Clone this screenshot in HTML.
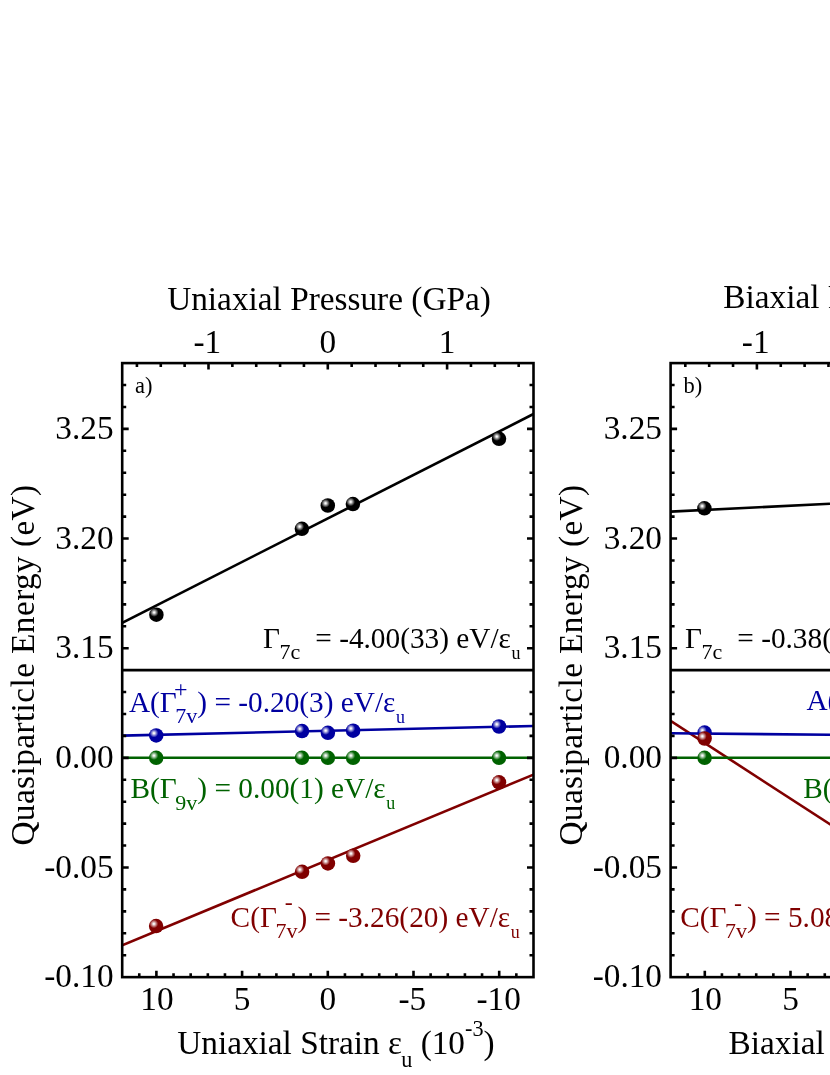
<!DOCTYPE html>
<html><head><meta charset="utf-8"><title>chart</title>
<style>html,body{margin:0;padding:0;background:#fff}body{width:830px;height:1075px;overflow:hidden}svg{display:block;will-change:transform}text{font-family:"Liberation Serif",serif;}</style>
</head><body>
<svg width="830" height="1075" viewBox="0 0 830 1075">
<defs>
<radialGradient id="gk" cx="0.345" cy="0.345" r="0.30"><stop offset="0" stop-color="#ffffff"/><stop offset="0.14" stop-color="#f6f6f6"/><stop offset="0.6" stop-color="#707070"/><stop offset="1" stop-color="#000000"/></radialGradient>
<radialGradient id="gb" cx="0.345" cy="0.345" r="0.30"><stop offset="0" stop-color="#ffffff"/><stop offset="0.14" stop-color="#f6f6f6"/><stop offset="0.6" stop-color="#7070cc"/><stop offset="1" stop-color="#0000a0"/></radialGradient>
<radialGradient id="gg" cx="0.345" cy="0.345" r="0.30"><stop offset="0" stop-color="#ffffff"/><stop offset="0.14" stop-color="#f6f6f6"/><stop offset="0.6" stop-color="#70a870"/><stop offset="1" stop-color="#006200"/></radialGradient>
<radialGradient id="gr" cx="0.345" cy="0.345" r="0.30"><stop offset="0" stop-color="#ffffff"/><stop offset="0.14" stop-color="#f6f6f6"/><stop offset="0.6" stop-color="#bb7070"/><stop offset="1" stop-color="#800000"/></radialGradient>
<clipPath id="cA"><rect x="122.2" y="363.1" width="411.3" height="614.04"/></clipPath>
<clipPath id="cB"><rect x="670.6" y="363.1" width="411.3" height="614.04"/></clipPath>
</defs>
<rect width="830" height="1075" fill="#fff"/>
<g clip-path="url(#cA)">
<line x1="122.2" y1="622.8" x2="533.5" y2="414.0" stroke="#000" stroke-width="2.6"/>
<line x1="122.2" y1="945.3" x2="533.5" y2="774.6" stroke="#800000" stroke-width="2.6"/>
<line x1="122.2" y1="757.8" x2="533.5" y2="757.8" stroke="#006200" stroke-width="2.6"/>
<line x1="122.2" y1="735.6" x2="533.5" y2="726.0" stroke="#0000a0" stroke-width="2.6"/>
</g>
<circle cx="156.4" cy="614.7" r="7.25" fill="url(#gk)"/>
<circle cx="301.9" cy="528.8" r="7.25" fill="url(#gk)"/>
<circle cx="327.8" cy="505.5" r="7.25" fill="url(#gk)"/>
<circle cx="352.9" cy="504.1" r="7.25" fill="url(#gk)"/>
<circle cx="499.0" cy="438.8" r="7.25" fill="url(#gk)"/>
<circle cx="156.2" cy="735.4" r="7.25" fill="url(#gb)"/>
<circle cx="302.0" cy="731.1" r="7.25" fill="url(#gb)"/>
<circle cx="327.9" cy="732.8" r="7.25" fill="url(#gb)"/>
<circle cx="353.1" cy="730.7" r="7.25" fill="url(#gb)"/>
<circle cx="499.0" cy="726.5" r="7.25" fill="url(#gb)"/>
<circle cx="156.2" cy="757.8" r="7.25" fill="url(#gg)"/>
<circle cx="302.0" cy="757.8" r="7.25" fill="url(#gg)"/>
<circle cx="327.9" cy="757.8" r="7.25" fill="url(#gg)"/>
<circle cx="353.1" cy="757.8" r="7.25" fill="url(#gg)"/>
<circle cx="499.0" cy="757.8" r="7.25" fill="url(#gg)"/>
<circle cx="156.1" cy="926.1" r="7.25" fill="url(#gr)"/>
<circle cx="302.1" cy="871.8" r="7.25" fill="url(#gr)"/>
<circle cx="327.9" cy="863.4" r="7.25" fill="url(#gr)"/>
<circle cx="353.2" cy="855.8" r="7.25" fill="url(#gr)"/>
<circle cx="499.0" cy="782.3" r="7.25" fill="url(#gr)"/>
<g clip-path="url(#cB)">
<line x1="670.6" y1="511.6" x2="830.0" y2="503.8" stroke="#000" stroke-width="2.6"/>
<line x1="670.6" y1="720.9" x2="840.6" y2="831.2" stroke="#800000" stroke-width="2.6"/>
<line x1="670.6" y1="757.8" x2="840.6" y2="757.8" stroke="#006200" stroke-width="2.6"/>
<line x1="670.6" y1="733.3" x2="830.0" y2="734.7" stroke="#0000a0" stroke-width="2.6"/>
</g>
<circle cx="704.4" cy="508.3" r="7.25" fill="url(#gk)"/>
<circle cx="704.6" cy="732.6" r="7.25" fill="url(#gb)"/>
<circle cx="704.6" cy="757.8" r="7.25" fill="url(#gg)"/>
<circle cx="704.6" cy="738.5" r="7.25" fill="url(#gr)"/>
<g stroke="#000" stroke-width="2.6" fill="none" stroke-linecap="butt">
<rect x="122.2" y="363.1" width="411.3" height="614.04"/>
<line x1="122.2" y1="670.12" x2="533.5" y2="670.12"/>
<path d="M516.34 977.14v-4.0 M499.20 977.14v-6.5 M482.06 977.14v-4.0 M464.92 977.14v-4.0 M447.78 977.14v-4.0 M430.64 977.14v-4.0 M413.50 977.14v-6.5 M396.36 977.14v-4.0 M379.22 977.14v-4.0 M362.08 977.14v-4.0 M344.94 977.14v-4.0 M327.80 977.14v-6.5 M310.66 977.14v-4.0 M293.52 977.14v-4.0 M276.38 977.14v-4.0 M259.24 977.14v-4.0 M242.10 977.14v-6.5 M224.96 977.14v-4.0 M207.82 977.14v-4.0 M190.68 977.14v-4.0 M173.54 977.14v-4.0 M156.40 977.14v-6.5 M139.26 977.14v-4.0 M136.92 363.1v4.0 M160.78 363.1v4.0 M184.64 363.1v4.0 M208.50 363.1v6.5 M232.36 363.1v4.0 M256.22 363.1v4.0 M280.08 363.1v4.0 M303.94 363.1v4.0 M327.80 363.1v6.5 M351.66 363.1v4.0 M375.52 363.1v4.0 M399.38 363.1v4.0 M423.24 363.1v4.0 M447.10 363.1v6.5 M470.96 363.1v4.0 M494.82 363.1v4.0 M518.68 363.1v4.0 M122.2 385.03h4.0 M533.5 385.03h-4.0 M122.2 406.96h4.0 M533.5 406.96h-4.0 M122.2 428.89h6.5 M533.5 428.89h-6.5 M122.2 450.82h4.0 M533.5 450.82h-4.0 M122.2 472.75h4.0 M533.5 472.75h-4.0 M122.2 494.68h4.0 M533.5 494.68h-4.0 M122.2 516.61h4.0 M533.5 516.61h-4.0 M122.2 538.54h6.5 M533.5 538.54h-6.5 M122.2 560.47h4.0 M533.5 560.47h-4.0 M122.2 582.40h4.0 M533.5 582.40h-4.0 M122.2 604.33h4.0 M533.5 604.33h-4.0 M122.2 626.26h4.0 M533.5 626.26h-4.0 M122.2 648.19h6.5 M533.5 648.19h-6.5 M122.2 692.05h4.0 M533.5 692.05h-4.0 M122.2 713.98h4.0 M533.5 713.98h-4.0 M122.2 735.91h4.0 M533.5 735.91h-4.0 M122.2 757.84h6.5 M533.5 757.84h-6.5 M122.2 779.77h4.0 M533.5 779.77h-4.0 M122.2 801.70h4.0 M533.5 801.70h-4.0 M122.2 823.63h4.0 M533.5 823.63h-4.0 M122.2 845.56h4.0 M533.5 845.56h-4.0 M122.2 867.49h6.5 M533.5 867.49h-6.5 M122.2 889.42h4.0 M533.5 889.42h-4.0 M122.2 911.35h4.0 M533.5 911.35h-4.0 M122.2 933.28h4.0 M533.5 933.28h-4.0 M122.2 955.21h4.0 M533.5 955.21h-4.0"/>
</g>
<g stroke="#000" stroke-width="2.6" fill="none" stroke-linecap="butt">
<rect x="670.6" y="363.1" width="411.30000000000007" height="614.04"/>
<line x1="670.6" y1="670.12" x2="1081.9" y2="670.12"/>
<path d="M1064.74 977.14v-4.0 M1047.60 977.14v-6.5 M1030.46 977.14v-4.0 M1013.32 977.14v-4.0 M996.18 977.14v-4.0 M979.04 977.14v-4.0 M961.90 977.14v-6.5 M944.76 977.14v-4.0 M927.62 977.14v-4.0 M910.48 977.14v-4.0 M893.34 977.14v-4.0 M876.20 977.14v-6.5 M859.06 977.14v-4.0 M841.92 977.14v-4.0 M824.78 977.14v-4.0 M807.64 977.14v-4.0 M790.50 977.14v-6.5 M773.36 977.14v-4.0 M756.22 977.14v-4.0 M739.08 977.14v-4.0 M721.94 977.14v-4.0 M704.80 977.14v-6.5 M687.66 977.14v-4.0 M685.32 363.1v4.0 M709.18 363.1v4.0 M733.04 363.1v4.0 M756.90 363.1v6.5 M780.76 363.1v4.0 M804.62 363.1v4.0 M828.48 363.1v4.0 M852.34 363.1v4.0 M876.20 363.1v6.5 M900.06 363.1v4.0 M923.92 363.1v4.0 M947.78 363.1v4.0 M971.64 363.1v4.0 M995.50 363.1v6.5 M1019.36 363.1v4.0 M1043.22 363.1v4.0 M1067.08 363.1v4.0 M670.6 385.03h4.0 M1081.9 385.03h-4.0 M670.6 406.96h4.0 M1081.9 406.96h-4.0 M670.6 428.89h6.5 M1081.9 428.89h-6.5 M670.6 450.82h4.0 M1081.9 450.82h-4.0 M670.6 472.75h4.0 M1081.9 472.75h-4.0 M670.6 494.68h4.0 M1081.9 494.68h-4.0 M670.6 516.61h4.0 M1081.9 516.61h-4.0 M670.6 538.54h6.5 M1081.9 538.54h-6.5 M670.6 560.47h4.0 M1081.9 560.47h-4.0 M670.6 582.40h4.0 M1081.9 582.40h-4.0 M670.6 604.33h4.0 M1081.9 604.33h-4.0 M670.6 626.26h4.0 M1081.9 626.26h-4.0 M670.6 648.19h6.5 M1081.9 648.19h-6.5 M670.6 692.05h4.0 M1081.9 692.05h-4.0 M670.6 713.98h4.0 M1081.9 713.98h-4.0 M670.6 735.91h4.0 M1081.9 735.91h-4.0 M670.6 757.84h6.5 M1081.9 757.84h-6.5 M670.6 779.77h4.0 M1081.9 779.77h-4.0 M670.6 801.70h4.0 M1081.9 801.70h-4.0 M670.6 823.63h4.0 M1081.9 823.63h-4.0 M670.6 845.56h4.0 M1081.9 845.56h-4.0 M670.6 867.49h6.5 M1081.9 867.49h-6.5 M670.6 889.42h4.0 M1081.9 889.42h-4.0 M670.6 911.35h4.0 M1081.9 911.35h-4.0 M670.6 933.28h4.0 M1081.9 933.28h-4.0 M670.6 955.21h4.0 M1081.9 955.21h-4.0"/>
</g>
<text x="207.3" y="352.8" font-size="33.3" text-anchor="middle" fill="#000" >-1</text>
<text x="327.8" y="352.8" font-size="33.3" text-anchor="middle" fill="#000" >0</text>
<text x="447.1" y="352.8" font-size="33.3" text-anchor="middle" fill="#000" >1</text>
<text x="156.9" y="1010.0" font-size="33.3" text-anchor="middle" fill="#000" >10</text>
<text x="242.10000000000002" y="1010.0" font-size="33.3" text-anchor="middle" fill="#000" >5</text>
<text x="327.8" y="1010.0" font-size="33.3" text-anchor="middle" fill="#000" >0</text>
<text x="412.3" y="1010.0" font-size="33.3" text-anchor="middle" fill="#000" >-5</text>
<text x="498.6" y="1010.0" font-size="33.3" text-anchor="middle" fill="#000" >-10</text>
<text x="113.60000000000001" y="438.99" font-size="33.3" text-anchor="end" fill="#000" >3.25</text>
<text x="113.60000000000001" y="548.6399999999996" font-size="33.3" text-anchor="end" fill="#000" >3.20</text>
<text x="113.60000000000001" y="658.2900000000002" font-size="33.3" text-anchor="end" fill="#000" >3.15</text>
<text x="113.60000000000001" y="767.94" font-size="33.3" text-anchor="end" fill="#000" >0.00</text>
<text x="113.60000000000001" y="877.59" font-size="33.3" text-anchor="end" fill="#000" >-0.05</text>
<text x="113.60000000000001" y="987.2400000000001" font-size="33.3" text-anchor="end" fill="#000" >-0.10</text>
<text transform="translate(34.0,665.0) rotate(-90)" font-size="33.3" text-anchor="middle" letter-spacing="0.42">Quasiparticle Energy (eV)</text>
<text x="755.7" y="352.8" font-size="33.3" text-anchor="middle" fill="#000" >-1</text>
<text x="876.2" y="352.8" font-size="33.3" text-anchor="middle" fill="#000" >0</text>
<text x="995.5" y="352.8" font-size="33.3" text-anchor="middle" fill="#000" >1</text>
<text x="705.3000000000001" y="1010.0" font-size="33.3" text-anchor="middle" fill="#000" >10</text>
<text x="790.5" y="1010.0" font-size="33.3" text-anchor="middle" fill="#000" >5</text>
<text x="876.2" y="1010.0" font-size="33.3" text-anchor="middle" fill="#000" >0</text>
<text x="960.7" y="1010.0" font-size="33.3" text-anchor="middle" fill="#000" >-5</text>
<text x="1047.0000000000002" y="1010.0" font-size="33.3" text-anchor="middle" fill="#000" >-10</text>
<text x="662.0" y="438.99" font-size="33.3" text-anchor="end" fill="#000" >3.25</text>
<text x="662.0" y="548.6399999999996" font-size="33.3" text-anchor="end" fill="#000" >3.20</text>
<text x="662.0" y="658.2900000000002" font-size="33.3" text-anchor="end" fill="#000" >3.15</text>
<text x="662.0" y="767.94" font-size="33.3" text-anchor="end" fill="#000" >0.00</text>
<text x="662.0" y="877.59" font-size="33.3" text-anchor="end" fill="#000" >-0.05</text>
<text x="662.0" y="987.2400000000001" font-size="33.3" text-anchor="end" fill="#000" >-0.10</text>
<text transform="translate(582.4,665.0) rotate(-90)" font-size="33.3" text-anchor="middle" letter-spacing="0.42">Quasiparticle Energy (eV)</text>
<text x="329" y="309.5" font-size="33.3" text-anchor="middle" fill="#000" >Uniaxial Pressure (GPa)</text>
<text x="723.3" y="308.2" font-size="33.3" text-anchor="start" fill="#000" >Biaxial Pressure (GPa)</text>
<text x="177.2" y="1054" font-size="33.3">Uniaxial Strain ε<tspan font-size="22.2" dy="12.7" dx="-0.8">u</tspan><tspan dy="-12.7"> (10</tspan><tspan font-size="22.2" dy="-17.7">-3</tspan><tspan dy="17.7">)</tspan></text>
<text x="728.5" y="1054" font-size="33.3" text-anchor="start" fill="#000" >Biaxial Strain</text>
<text x="134.9" y="392.8" font-size="22.5" text-anchor="start" fill="#000" >a)</text>
<text x="683.6" y="392.8" font-size="22.5" text-anchor="start" fill="#000" >b)</text>
<text x="263.0" y="647.6" font-size="29.3" fill="#000">Γ<tspan font-size="22.0" dy="11.3" dx="-0.4">7c</tspan><tspan dy="-11.3" dx="15">= -4.00(33) eV/ε</tspan><tspan font-size="18.0" dy="11.0" dx="0.6">u</tspan></text>
<text x="128.9" y="711.8" font-size="29.3" fill="#0000a0">A(Γ<tspan font-size="22.0" dy="11.3" dx="-1.4">7v</tspan><tspan dy="-11.3" dx="0">) = -0.20(3) eV/ε</tspan><tspan font-size="18.0" dy="11.0" dx="0.6">u</tspan></text>
<text x="174.0" y="697.0" font-size="24" fill="#0000a0">+</text>
<text x="130.5" y="798.2" font-size="29.3" fill="#006200">B(Γ<tspan font-size="22.0" dy="11.3" dx="-1.4">9v</tspan><tspan dy="-11.3" dx="0">) = 0.00(1) eV/ε</tspan><tspan font-size="18.0" dy="11.0" dx="0.6">u</tspan></text>
<text x="230.6" y="926.8" font-size="29.3" fill="#800000">C(Γ<tspan font-size="22.0" dy="11.3" dx="-1.4">7v</tspan><tspan dy="-11.3" dx="0">) = -3.26(20) eV/ε</tspan><tspan font-size="18.0" dy="11.0" dx="0.6">u</tspan></text>
<text x="284.8" y="909.7" font-size="24" fill="#800000">-</text>
<text x="685" y="647.7" font-size="29.3" fill="#000">Γ<tspan font-size="22.0" dy="11.3" dx="-0.4">7c</tspan><tspan dy="-11.3" dx="15">= -0.38(5) eV/ε</tspan></text>
<text x="806.4" y="710.0" font-size="29.3" fill="#0000a0">A(Γ</text>
<text x="803.2" y="797.8" font-size="29.3" fill="#006200">B(Γ</text>
<text x="680.2" y="926.8" font-size="29.3" fill="#800000">C(Γ<tspan font-size="22.0" dy="11.3" dx="-1.4">7v</tspan><tspan dy="-11.3" dx="0">) = 5.08(9) eV/ε</tspan></text>
<text x="734.0" y="911.0" font-size="24" fill="#800000">-</text>
</svg></body></html>
